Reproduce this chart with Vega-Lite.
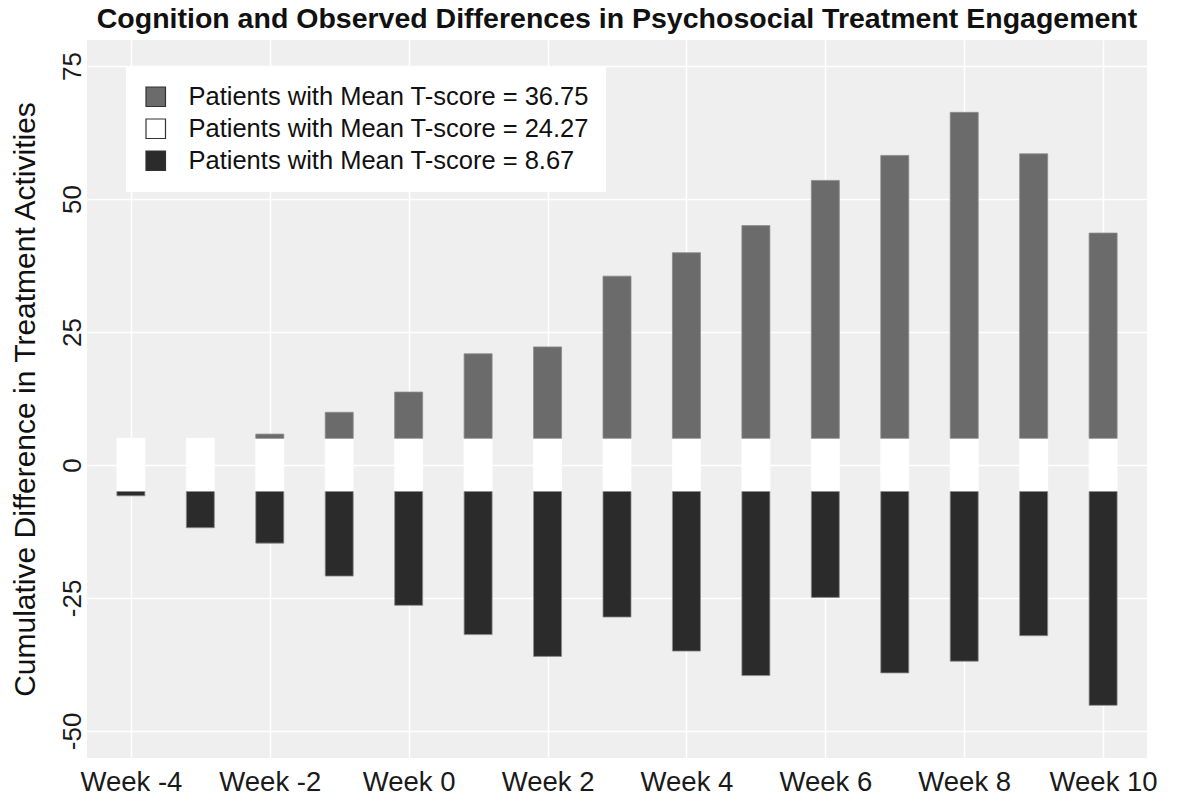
{
  "$schema": "https://vega.github.io/schema/vega-lite/v6.json",
  "autosize": {"type": "none"},
  "width": 1060,
  "height": 718,
  "padding": {"left": 87, "top": 40, "right": 31, "bottom": 46},
  "background": "white",
  "title": {
    "text": "Cognition and Observed Differences in Psychosocial Treatment Engagement",
    "font": "Liberation Sans",
    "fontSize": 28.5,
    "fontWeight": "bold",
    "color": "#111111",
    "anchor": "middle",
    "offset": 7
  },
  "data": {
    "values": [
      {"week": -4, "group": "Patients with Mean T-score = 24.27", "start": -5, "end": 5},
      {"week": -3, "group": "Patients with Mean T-score = 24.27", "start": -5, "end": 5},
      {"week": -2, "group": "Patients with Mean T-score = 24.27", "start": -5, "end": 5},
      {"week": -1, "group": "Patients with Mean T-score = 24.27", "start": -5, "end": 5},
      {"week": 0, "group": "Patients with Mean T-score = 24.27", "start": -5, "end": 5},
      {"week": 1, "group": "Patients with Mean T-score = 24.27", "start": -5, "end": 5},
      {"week": 2, "group": "Patients with Mean T-score = 24.27", "start": -5, "end": 5},
      {"week": 3, "group": "Patients with Mean T-score = 24.27", "start": -5, "end": 5},
      {"week": 4, "group": "Patients with Mean T-score = 24.27", "start": -5, "end": 5},
      {"week": 5, "group": "Patients with Mean T-score = 24.27", "start": -5, "end": 5},
      {"week": 6, "group": "Patients with Mean T-score = 24.27", "start": -5, "end": 5},
      {"week": 7, "group": "Patients with Mean T-score = 24.27", "start": -5, "end": 5},
      {"week": 8, "group": "Patients with Mean T-score = 24.27", "start": -5, "end": 5},
      {"week": 9, "group": "Patients with Mean T-score = 24.27", "start": -5, "end": 5},
      {"week": 10, "group": "Patients with Mean T-score = 24.27", "start": -5, "end": 5},
      {"week": -2, "group": "Patients with Mean T-score = 36.75", "start": 5, "end": 5.8},
      {"week": -1, "group": "Patients with Mean T-score = 36.75", "start": 5, "end": 9.9},
      {"week": 0, "group": "Patients with Mean T-score = 36.75", "start": 5, "end": 13.7},
      {"week": 1, "group": "Patients with Mean T-score = 36.75", "start": 5, "end": 20.9},
      {"week": 2, "group": "Patients with Mean T-score = 36.75", "start": 5, "end": 22.2},
      {"week": 3, "group": "Patients with Mean T-score = 36.75", "start": 5, "end": 35.5},
      {"week": 4, "group": "Patients with Mean T-score = 36.75", "start": 5, "end": 39.9},
      {"week": 5, "group": "Patients with Mean T-score = 36.75", "start": 5, "end": 45.0},
      {"week": 6, "group": "Patients with Mean T-score = 36.75", "start": 5, "end": 53.5},
      {"week": 7, "group": "Patients with Mean T-score = 36.75", "start": 5, "end": 58.2},
      {"week": 8, "group": "Patients with Mean T-score = 36.75", "start": 5, "end": 66.3},
      {"week": 9, "group": "Patients with Mean T-score = 36.75", "start": 5, "end": 58.5},
      {"week": 10, "group": "Patients with Mean T-score = 36.75", "start": 5, "end": 43.6},
      {"week": -4, "group": "Patients with Mean T-score = 8.67", "start": -5, "end": -5.8},
      {"week": -3, "group": "Patients with Mean T-score = 8.67", "start": -5, "end": -11.8},
      {"week": -2, "group": "Patients with Mean T-score = 8.67", "start": -5, "end": -14.7},
      {"week": -1, "group": "Patients with Mean T-score = 8.67", "start": -5, "end": -20.9},
      {"week": 0, "group": "Patients with Mean T-score = 8.67", "start": -5, "end": -26.4},
      {"week": 1, "group": "Patients with Mean T-score = 8.67", "start": -5, "end": -31.9},
      {"week": 2, "group": "Patients with Mean T-score = 8.67", "start": -5, "end": -36.0},
      {"week": 3, "group": "Patients with Mean T-score = 8.67", "start": -5, "end": -28.6},
      {"week": 4, "group": "Patients with Mean T-score = 8.67", "start": -5, "end": -35.0},
      {"week": 5, "group": "Patients with Mean T-score = 8.67", "start": -5, "end": -39.6},
      {"week": 6, "group": "Patients with Mean T-score = 8.67", "start": -5, "end": -24.9},
      {"week": 7, "group": "Patients with Mean T-score = 8.67", "start": -5, "end": -39.1},
      {"week": 8, "group": "Patients with Mean T-score = 8.67", "start": -5, "end": -36.9},
      {"week": 9, "group": "Patients with Mean T-score = 8.67", "start": -5, "end": -32.1},
      {"week": 10, "group": "Patients with Mean T-score = 8.67", "start": -5, "end": -45.2}
    ]
  },
  "mark": {"type": "bar", "width": 28, "strokeWidth": 0.8},
  "encoding": {
    "x": {
      "field": "week",
      "type": "quantitative",
      "scale": {"domain": [-4.56, 10.56], "nice": false, "zero": false},
      "axis": {
        "values": [-4, -2, 0, 2, 4, 6, 8, 10],
        "labelExpr": "'Week ' + datum.value",
        "title": null,
        "grid": true,
        "gridColor": "#ffffff",
        "gridWidth": 1.5,
        "ticks": false,
        "domain": false,
        "labelFont": "Liberation Sans",
        "labelFontSize": 27.5,
        "labelColor": "#1a1a1a",
        "labelPadding": 10
      }
    },
    "y": {
      "field": "start",
      "type": "quantitative",
      "scale": {"domain": [-55.1, 79.9], "nice": false, "zero": false},
      "axis": {
        "values": [-50, -25, 0, 25, 50, 75],
        "labelExpr": "'' + datum.value",
        "title": "Cumulative Difference in Treatment Activities",
        "titleFont": "Liberation Sans",
        "titleFontSize": 30,
        "titleFontWeight": "normal",
        "titleColor": "#111111",
        "titlePadding": 19,
        "grid": true,
        "gridColor": "#ffffff",
        "gridWidth": 1.5,
        "ticks": false,
        "domain": false,
        "labelAngle": -90,
        "labelAlign": "center",
        "labelBaseline": "bottom",
        "labelFont": "Liberation Sans",
        "labelFontSize": 26,
        "labelColor": "#1a1a1a",
        "labelPadding": 2
      }
    },
    "y2": {"field": "end"},
    "fill": {
      "field": "group",
      "type": "nominal",
      "scale": {
        "domain": ["Patients with Mean T-score = 36.75", "Patients with Mean T-score = 24.27", "Patients with Mean T-score = 8.67"],
        "range": ["#6b6b6b", "#ffffff", "#2b2b2b"]
      },
      "legend": {
        "title": null,
        "orient": "none",
        "legendX": 39,
        "legendY": 27,
        "fillColor": "#ffffff",
        "padding": 17,
        "symbolType": "square",
        "symbolSize": 380,
        "symbolStrokeColor": "#333333",
        "symbolStrokeWidth": 1.2,
        "symbolOpacity": 1,
        "labelFont": "Liberation Sans",
        "labelFontSize": 25.5,
        "labelColor": "#111111",
        "labelOffset": 20,
        "labelLimit": 600,
        "rowPadding": 5
      }
    },
    "stroke": {
      "condition": {"test": "datum.group === 'Patients with Mean T-score = 24.27'", "value": "#ffffff"},
      "value": "#8c8c8c"
    }
  },
  "config": {
    "view": {"fill": "#efefef", "stroke": null}
  }
}
